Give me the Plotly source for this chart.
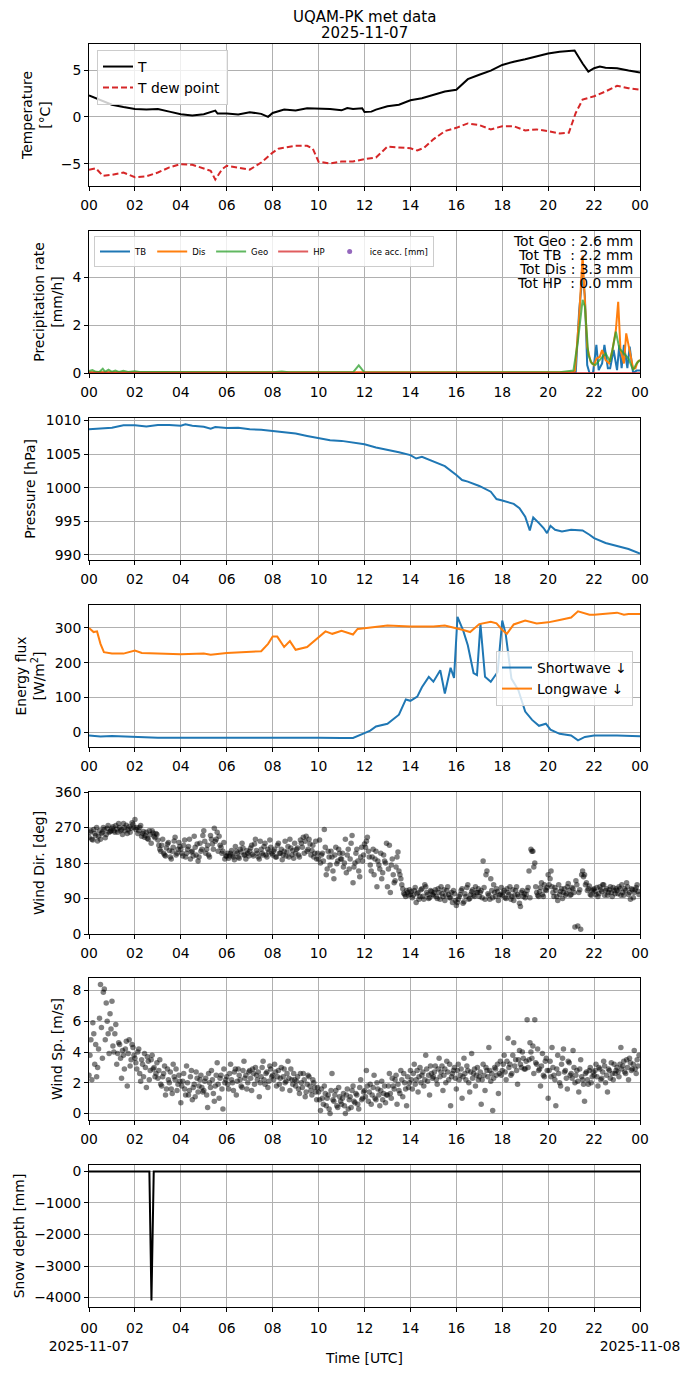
import pandas as pd
import plotly.graph_objects as go
from plotly.subplots import make_subplots

DAY = pd.Timestamp("2025-11-07")

# --- temperature [degC] ---
temp_hours = [0, 0.5, 1, 1.5, 2, 2.5, 3, 3.5, 4, 4.5, 5, 5.5, 5.6, 6, 6.5, 7, 7.5, 7.8, 8, 8.5,
              9, 9.5, 10, 10.5, 11, 11.25, 11.5, 11.9, 12, 12.3, 12.5, 13, 13.5, 14, 14.5, 15, 15.5, 16, 16.25, 16.5,
              17, 17.5, 18, 18.5, 19, 19.5, 20, 20.5, 21, 21.15, 21.5, 21.75, 22, 22.25, 22.5, 23, 23.5, 24]
temp_values = [2.3, 1.8, 1.3, 1.06, 0.85, 0.78, 0.85, 0.56, 0.28, 0.14, 0.28, 0.67, 0.35, 0.35, 0.25, 0.5, 0.32, 0.0, 0.42, 0.78,
               0.67, 0.92, 0.92, 0.85, 0.7, 0.95, 0.85, 0.92, 0.53, 0.56, 0.78, 1.13, 1.3, 1.77, 2.0, 2.37, 2.72, 2.9, 3.43, 4.03,
               4.5, 4.95, 5.55, 5.9, 6.15, 6.43, 6.78, 6.96, 7.03, 7.1, 5.7, 4.84, 5.2, 5.37, 5.26, 5.2, 4.95, 4.73]

dew_hours = [0, 0.3, 0.6, 1, 1.5, 2, 2.5, 3, 3.5, 4, 4.5, 5, 5.3, 5.5, 5.8, 6, 6.5, 7, 7.5, 8,
             8.25, 8.5, 9, 9.5, 9.75, 10, 10.5, 11, 11.5, 12, 12.5, 13, 13.5, 14, 14.3, 14.6, 15, 15.5, 16, 16.5,
             17, 17.5, 18, 18.5, 19, 19.5, 20, 20.5, 20.9, 21.2, 21.5, 22, 22.5, 23, 23.5, 24]
dew_values = [-5.65, -5.5, -6.3, -6.2, -5.95, -6.45, -6.35, -5.95, -5.4, -5.05, -5.12, -5.5, -5.76, -6.7, -5.58, -5.23, -5.4, -5.65, -4.88, -3.82,
              -3.4, -3.3, -3.1, -3.1, -3.4, -4.8, -4.98, -4.77, -4.77, -4.52, -4.35, -3.18, -3.3, -3.36, -3.6, -3.3, -2.4, -1.52, -1.17, -0.7,
              -0.88, -1.34, -1.0, -1.0, -1.45, -1.34, -1.52, -1.77, -1.7, 0.42, 1.84, 2.2, 2.72, 3.32, 3.07, 2.9]

# --- precipitation rate [mm/h] ---
tb_hours = [0, 21.1, 21.2, 21.35, 21.5, 21.6, 21.7, 21.8, 21.95, 22.1, 22.2, 22.35, 22.45, 22.6, 22.7,
            22.85, 23.0, 23.1, 23.2, 23.3, 23.45, 23.55, 23.7, 23.85, 24.0]
tb_rate = [0.03, 0.03, 0.0, 2.6, 4.1, 3.2, 0.33, 0.0, 0.0, 1.17, 0.12, 0.4, 1.17, 0.2, 0.2,
           0.96, 0.12, 1.17, 0.2, 1.17, 0.2, 1.1, 0.0, 0.1, 0.1]
dis_hours = [0, 21.05, 21.17, 21.35, 21.5, 21.6, 21.7, 21.85, 22.0, 22.1, 22.25, 22.35, 22.5, 22.65, 22.8,
             22.95, 23.05, 23.15, 23.3, 23.4, 23.55, 23.7, 23.8, 23.9, 24.0]
dis_rate = [0.03, 0.03, 0.1, 2.35, 4.9, 3.05, 1.1, 0.47, 0.33, 0.6, 0.68, 0.96, 0.54, 0.4, 0.96,
            1.8, 2.97, 0.96, 0.4, 1.65, 0.96, 0.19, 0.2, 0.47, 0.54]
geo_hours = [0, 0.15, 0.3, 0.45, 0.6, 0.7, 0.85, 1.0, 1.15, 1.3, 1.5, 1.7, 2.0, 2.2, 3.0, 4.0, 6.0, 8.0, 8.4, 8.7,
             10.0, 11.5, 11.75, 12.0, 14.0, 16.0, 17.0, 18.0, 19.5, 20.0, 20.5, 21.1, 21.3, 21.5, 21.6, 21.75, 21.9,
             22.05, 22.3, 22.5, 22.7, 22.95, 23.1, 23.3, 23.5, 23.7, 23.85, 24.0]
geo_rate = [0.08, 0.12, 0.05, 0.04, 0.18, 0.05, 0.14, 0.05, 0.1, 0.04, 0.09, 0.04, 0.07, 0.04, 0.04, 0.03, 0.03, 0.03, 0.06, 0.03,
            0.03, 0.03, 0.32, 0.02, 0.02, 0.02, 0.03, 0.02, 0.03, 0.02, 0.03, 0.1, 1.37, 3.05, 2.76, 0.75, 0.4,
            0.33, 0.6, 0.82, 0.47, 1.72, 1.03, 0.82, 0.6, 0.12, 0.4, 0.54]
hp_hours = [0, 24]
hp_rate = [0.0, 0.0]
precip_totals = {"Geo": 2.6, "TB": 2.2, "Dis": 3.3, "HP": 0.0}

# --- pressure [hPa] ---
pres_hours = [0, 0.5, 1, 1.5, 2, 2.5, 3, 3.5, 4, 4.2, 4.5, 5, 5.3, 5.5, 6, 6.5, 7, 7.5, 8, 8.5,
              9, 9.5, 10, 10.5, 11, 11.5, 12, 12.5, 13, 13.3, 13.5, 14, 14.25, 14.5, 15, 15.5, 16, 16.25, 16.5, 17,
              17.5, 17.75, 18, 18.5, 18.75, 19, 19.2, 19.35, 19.6, 19.8, 19.95, 20.1, 20.3, 20.6, 21, 21.5, 21.8, 22, 22.5, 23,
              23.5, 24]
pres_values = [1008.67, 1008.8, 1008.9, 1009.26, 1009.26, 1009.1, 1009.3, 1009.3, 1009.2, 1009.4,
               1009.2, 1009.06, 1008.77, 1009.0, 1008.87, 1008.9, 1008.67, 1008.62, 1008.42, 1008.23,
               1008.03, 1007.68, 1007.4, 1007.04, 1006.95, 1006.75, 1006.45, 1005.96, 1005.67, 1005.47,
               1005.27, 1004.83, 1004.33, 1004.58, 1003.84, 1003.2, 1001.87, 1001.13, 1000.89, 1000.25,
               999.4, 998.3, 998.08, 997.59, 996.95, 995.7, 993.65, 995.57, 994.73, 994.0,
               993.25, 994.33, 993.74, 993.5, 993.74, 993.65, 993.0, 992.5, 991.77, 991.28,
               990.89, 990.2]

# --- radiation [W/m2] ---
sw_hours = [0, 0.5, 1, 2, 3, 4, 5, 6, 7, 8, 9, 10, 11, 11.5, 12, 12.25, 12.5, 13, 13.5, 13.8,
            14, 14.3, 14.5, 14.8, 15.0, 15.3, 15.5, 15.75, 15.9, 16.05, 16.3, 16.5, 16.75, 16.9, 17.05, 17.25, 17.5, 17.8, 18.0, 18.15,
            18.4, 18.7, 19, 19.3, 19.6, 19.9, 20.1, 20.5, 21, 21.3, 21.6, 22, 23, 24]
sw_values = [-10, -13, -11, -14, -16, -16, -16, -15, -16, -14, -16, -16, -17, -17, -3, 4, 16, 24, 50, 94,
             90, 102, 129, 159, 145, 178, 111, 185, 156, 332, 292, 250, 170, 164, 311, 159, 145, 173, 321, 283,
             154, 121, 59, 35, 18, 24, 7, -5, -10, -24, -14, -10, -10, -12]
lw_hours = [0, 0.2, 0.35, 0.5, 0.65, 1, 1.5, 2, 2.3, 3, 4, 5, 5.3, 6, 7, 7.5, 7.8, 8, 8.2, 8.5,
            8.75, 9, 9.5, 10, 10.3, 10.6, 11, 11.5, 11.7, 12, 12.5, 13, 14, 15, 15.5, 16, 16.3, 16.6, 17, 17.5,
            17.75, 18, 18.2, 18.5, 19, 19.5, 20, 20.5, 21, 21.3, 21.8, 22, 22.5, 23, 23.3, 23.5, 24]
lw_values = [300, 288, 290, 254, 230, 226, 226, 235, 228, 226, 224, 226, 223, 228, 230, 233, 254, 275, 275, 245,
             262, 237, 245, 273, 290, 283, 292, 281, 297, 299, 302, 307, 304, 304, 307, 300, 294, 288, 311, 318,
             313, 294, 283, 310, 321, 313, 316, 323, 330, 348, 338, 338, 340, 344, 338, 340, 340]

# --- wind, 5-min samples on the 5-min mark (one row per hour) ---
wind_dir = [
    245, 262, 238, 255, 270, 248, 240, 258, 265, 252, 275, 260,
    268, 262, 275, 258, 270, 265, 280, 262, 255, 272, 268, 278,
    290, 270, 262, 275, 255, 245, 258, 240, 252, 262, 248, 255,
    238, 215, 225, 205, 198, 228, 212, 190, 220, 245, 205, 232,
    215, 198, 238, 205, 222, 190, 210, 248, 200, 185, 230, 215,
    262, 205, 225, 195, 240, 215, 235, 258, 248, 220, 210, 190,
    198, 192, 205, 200, 188, 210, 195, 215, 230, 200, 190, 205,
    210, 225, 198, 240, 205, 190, 215, 200, 230, 195, 208, 220,
    200, 215, 195, 230, 205, 188, 210, 198, 222, 240, 200, 192,
    205, 218, 195, 230, 245, 235, 210, 240, 200, 225, 205, 190,
    190, 180, 205, 265, 150, 210, 175, 195, 140, 220, 185, 205,
    190, 170, 240, 200, 165, 230, 130, 180, 215, 160, 195, 185,
    228, 235, 210, 175, 195, 150, 210, 185, 165, 140, 200, 180,
    120, 225, 175, 150, 135, 195, 160, 140, 115, 100, 110, 98,
    100, 92, 110, 80, 105, 95, 115, 88, 120, 100, 92, 108,
    98, 112, 90, 105, 120, 95, 85, 110, 100, 92, 80, 102,
    72, 88, 100, 115, 82, 95, 125, 90, 108, 98, 120, 105,
    95, 110, 185, 88, 160, 98, 140, 92, 105, 115, 85, 100,
    98, 110, 90, 105, 120, 95, 85, 110, 100, 78, 105, 95,
    92, 110, 160, 215, 210, 180, 105, 95, 118, 100, 125, 110,
    150, 140, 120, 95, 110, 85, 100, 115, 105, 98, 120, 110,
    100, 115, 18, 125, 105, 12, 160, 150, 130, 115, 100, 110,
    115, 100, 95, 120, 108, 125, 110, 98, 112, 105, 118, 102,
    110, 120, 98, 105, 115, 130, 100, 88, 112, 105, 118, 108,
]
wind_speed = [
    2.5, 4.8, 5.9, 3.2, 2.4, 4.2, 8.4, 3.6, 8.1, 7.2, 5.2, 6.5,
    7.3, 4.0, 5.8, 3.9, 4.5, 2.3, 3.8, 4.2, 1.8, 4.8, 3.5, 4.3,
    3.6, 2.9, 4.2, 2.1, 3.2, 3.9, 1.7, 3.4, 2.8, 3.8, 3.0, 2.6,
    2.3, 3.5, 1.8, 2.6, 1.2, 2.9, 2.0, 1.6, 3.2, 2.2, 1.5, 2.5,
    0.7, 2.1, 1.6, 3.1, 1.2, 2.4, 0.9, 1.9, 2.7, 1.4, 2.2, 1.7,
    1.5, 2.3, 0.4, 2.0, 2.8, 1.3, 1.8, 3.3, 1.0, 2.5, 0.3, 2.0,
    2.4, 1.6, 3.2, 2.0, 2.7, 1.2, 2.9, 2.2, 1.7, 3.4, 2.5, 2.0,
    2.8, 1.5, 2.6, 3.0, 2.2, 1.1, 2.4, 3.4, 1.9, 2.7, 2.1, 2.9,
    2.5, 3.2, 1.8, 2.8, 2.3, 1.6, 2.9, 2.1, 3.4, 1.5, 2.2, 2.6,
    1.8, 2.4, 1.3, 2.0, 2.6, 1.1, 1.9, 2.4, 1.5, 2.2, 1.7, 0.9,
    1.4, 0.2, 1.0, 1.8, 0.5, 1.2, 0.0, 2.6, 0.8, 1.5, 0.4, 1.1,
    0.6, 1.3, 0.0, 1.6, 0.9, 0.4, 1.8, 0.7, 1.2, 0.3, 2.2, 1.0,
    1.5, 2.8, 0.8, 1.9, 1.2, 2.5, 0.9, 1.6, 0.5, 2.1, 1.3, 0.7,
    1.2, 2.6, 1.0, 1.8, 2.2, 0.6, 1.5, 2.8, 1.1, 2.0, 0.5, 1.7,
    2.8, 1.6, 3.2, 2.2, 1.4, 3.0, 2.5, 1.8, 3.8, 2.1, 1.2, 2.6,
    2.4, 3.1, 1.9, 3.6, 2.7, 1.5, 2.9, 3.4, 2.2, 0.5, 2.6, 3.0,
    1.6, 3.2, 2.5, 1.0, 3.6, 2.2, 2.8, 1.4, 3.9, 2.6, 1.8, 3.0,
    2.4, 0.6, 3.2, 1.5, 2.8, 4.3, 2.1, 0.2, 3.0, 2.5, 1.3, 3.4,
    2.8, 3.8, 2.2, 4.9, 3.2, 2.6, 4.6, 3.5, 1.9, 4.1, 3.0, 3.6,
    2.9, 6.1, 3.5, 4.0, 4.4, 6.1, 3.2, 2.8, 1.8, 3.9, 2.4, 3.6,
    1.0, 3.4, 4.3, 2.5, 0.5, 3.8, 2.0, 3.2, 4.2, 2.8, 1.6, 3.3,
    2.6, 4.1, 2.0, 2.8, 1.4, 3.5, 2.2, 0.8, 2.7, 1.9, 3.0, 2.4,
    2.5, 3.2, 1.8, 2.9, 2.3, 3.4, 2.0, 1.4, 2.8, 3.3, 2.2, 2.6,
    3.0, 2.4, 4.3, 3.1, 2.7, 3.5, 2.2, 3.3, 2.9, 4.1, 2.6, 3.1,
]
# samples half way between the ones above (xx:02:30, xx:07:30, ...)
wind_dir_mid = [
    258, 240, 265, 250, 236, 262, 255, 270, 244, 268, 258, 262,
    272, 258, 266, 280, 262, 252, 270, 276, 264, 258, 282, 270,
    265, 255, 270, 248, 260, 250, 242, 262, 230, 256, 244, 252,
    225, 210, 240, 200, 218, 232, 195, 210, 236, 200, 215, 222,
    205, 225, 195, 215, 240, 208, 198, 220, 228, 195, 210, 250,
    235, 215, 200, 250, 228, 268, 240, 210, 225, 205, 232, 198,
    205, 198, 212, 195, 222, 205, 192, 208, 218, 200, 212, 198,
    218, 202, 228, 212, 195, 235, 205, 222, 200, 215, 238, 205,
    210, 195, 225, 205, 215, 200, 235, 208, 195, 218, 212, 230,
    215, 200, 238, 220, 205, 248, 215, 228, 212, 195, 235, 205,
    238, 200, 185, 220, 165, 195, 210, 160, 200, 178, 215, 190,
    205, 180, 155, 215, 190, 250, 170, 205, 185, 145, 220, 200,
    220, 245, 195, 160, 215, 190, 120, 175, 205, 155, 185, 230,
    165, 105, 190, 130, 170, 208, 150, 125, 103, 95, 105, 112,
    108, 98, 118, 102, 88, 112, 96, 125, 105, 90, 110, 100,
    105, 95, 115, 88, 102, 112, 98, 120, 92, 105, 110, 85,
    80, 95, 110, 78, 102, 118, 88, 100, 112, 95, 105, 115,
    105, 92, 118, 150, 102, 88, 110, 125, 95, 108, 98, 118,
    105, 92, 115, 100, 88, 112, 98, 120, 95, 70, 110, 102,
    100, 118, 92, 210, 170, 120, 98, 108, 130, 95, 112, 118,
    125, 160, 105, 118, 95, 125, 108, 90, 115, 102, 128, 98,
    118, 105, 135, 20, 112, 150, 145, 125, 110, 122, 98, 112,
    108, 118, 102, 112, 125, 98, 115, 105, 120, 95, 110, 115,
    102, 115, 125, 98, 110, 120, 105, 115, 92, 112, 125, 100,
]
wind_speed_mid = [
    3.8, 2.2, 5.2, 4.5, 3.0, 6.2, 5.6, 7.9, 4.8, 6.0, 3.9, 5.5,
    4.4, 5.2, 3.2, 4.6, 3.6, 4.1, 2.9, 4.7, 3.9, 3.1, 4.5, 3.8,
    3.3, 4.0, 2.6, 3.5, 2.4, 3.0, 3.7, 2.2, 3.5, 2.9, 2.4, 3.3,
    2.8, 1.9, 2.4, 3.1, 1.6, 2.2, 2.7, 1.3, 2.4, 2.9, 1.9, 2.1,
    1.8, 2.6, 1.2, 2.0, 1.5, 2.8, 1.7, 1.1, 2.3, 1.8, 2.5, 1.4,
    2.1, 1.2, 2.6, 1.7, 2.2, 0.8, 2.5, 1.9, 2.3, 1.6, 2.9, 2.2,
    1.9, 2.6, 2.2, 1.5, 2.9, 2.1, 2.5, 1.8, 2.8, 2.3, 1.6, 2.7,
    2.3, 2.9, 1.9, 2.5, 2.7, 2.0, 3.0, 2.2, 2.6, 1.7, 3.1, 2.4,
    2.2, 2.7, 2.4, 1.9, 3.0, 2.4, 2.0, 2.6, 2.3, 2.9, 1.9, 2.2,
    2.1, 1.6, 2.6, 1.7, 2.2, 1.4, 2.5, 1.8, 1.2, 2.0, 1.4, 1.7,
    0.9, 1.6, 0.6, 1.3, 1.0, 0.3, 1.5, 0.9, 1.2, 0.5, 1.7, 0.8,
    1.0, 0.5, 1.2, 0.3, 1.1, 1.5, 0.8, 1.3, 0.6, 1.7, 0.9, 1.4,
    1.1, 1.8, 1.4, 0.6, 1.7, 1.0, 2.0, 1.2, 1.5, 0.9, 1.8, 1.2,
    1.8, 1.3, 2.3, 1.6, 2.5, 1.9, 1.3, 2.2, 2.6, 1.6, 2.4, 2.0,
    2.2, 2.6, 1.9, 2.8, 2.4, 2.0, 2.7, 2.2, 2.9, 2.5, 3.1, 2.3,
    2.7, 2.2, 2.9, 2.4, 3.1, 2.5, 2.0, 2.7, 3.2, 2.4, 2.8, 2.3,
    2.8, 2.2, 2.9, 2.4, 2.6, 3.1, 2.0, 2.7, 2.3, 2.9, 2.5, 2.2,
    2.7, 2.2, 2.5, 3.0, 2.4, 2.8, 2.6, 2.3, 2.9, 3.2, 2.6, 2.5,
    3.2, 2.7, 3.4, 3.0, 2.5, 3.8, 3.1, 2.8, 3.5, 3.2, 4.0, 2.9,
    3.4, 3.0, 4.6, 3.6, 2.6, 3.3, 4.2, 2.9, 3.1, 2.5, 3.4, 2.8,
    2.8, 2.4, 3.0, 2.2, 2.9, 2.6, 1.8, 3.6, 2.7, 2.3, 3.4, 2.5,
    2.3, 3.0, 2.5, 2.1, 2.9, 2.4, 1.9, 2.6, 2.2, 2.8, 2.0, 2.7,
    2.8, 2.4, 3.0, 2.2, 2.7, 3.1, 2.5, 2.9, 2.3, 2.6, 3.2, 2.8,
    2.7, 3.2, 2.9, 3.4, 2.6, 3.0, 3.6, 2.8, 3.2, 2.9, 3.5, 3.8,
]

# --- snow depth [mm] ---
snow_hours = [0, 2.63, 2.72, 2.82, 24]
snow_values = [0, 0, -4095, 0, 0]

tick_hours = ["00", "02", "04", "06", "08", "10", "12", "14", "16", "18", "20", "22", "00"]

BLUE, ORANGE, GREEN, RED, PURPLE = "#1f77b4", "#ff7f0e", "#2ca02c", "#d62728", "#9467bd"
FONT = "DejaVu Sans"
FS = 13.9

# layout in page pixels; the page body adds an 8 px margin round the figure
PAGE_OFF = 8
W, H = 690 - PAGE_OFF, 1377 - PAGE_OFF
PLOT_L, PLOT_R, PLOT_T, PLOT_B = 89, 640, 44, 1307
PANEL_TOPS = [44, 231, 418, 605, 792, 978, 1165]
PANEL_H = 142


def to_time(hours):
    return DAY + pd.to_timedelta(hours, unit="h")


def px_x(px):
    return (px - PLOT_L) / (PLOT_R - PLOT_L)


def px_y(py):
    return 1 - (py - PLOT_T) / (PLOT_B - PLOT_T)


def label_font(size=FS):
    return dict(family=FONT, size=size, color="black")


fig = make_subplots(rows=7, cols=1)

fig.add_trace(go.Scatter(x=to_time(temp_hours), y=temp_values, mode="lines", name="T",
                         line=dict(color="black", width=2), legend="legend"), row=1, col=1)
fig.add_trace(go.Scatter(x=to_time(dew_hours), y=dew_values, mode="lines", name="T dew point",
                         line=dict(color=RED, width=2, dash="6px,3px"), legend="legend"), row=1, col=1)

for name, hrs, vals, color, op in [("TB", tb_hours, tb_rate, BLUE, 1.0),
                                   ("Dis", dis_hours, dis_rate, ORANGE, 1.0),
                                   ("Geo", geo_hours, geo_rate, GREEN, 0.75),
                                   ("HP", hp_hours, hp_rate, RED, 0.75)]:
    fig.add_trace(go.Scatter(x=to_time(hrs), y=vals, mode="lines", name=name, opacity=op,
                             line=dict(color=color, width=2), legend="legend2"), row=2, col=1)
fig.add_trace(go.Scatter(x=[None], y=[None], mode="markers", name="ice acc. [mm]",
                         marker=dict(color=PURPLE, size=5), legend="legend2"), row=2, col=1)

fig.add_trace(go.Scatter(x=to_time(pres_hours), y=pres_values, mode="lines", showlegend=False,
                         line=dict(color=BLUE, width=2)), row=3, col=1)

fig.add_trace(go.Scatter(x=to_time(sw_hours), y=sw_values, mode="lines", name="Shortwave ↓",
                         line=dict(color=BLUE, width=2), legend="legend3"), row=4, col=1)
fig.add_trace(go.Scatter(x=to_time(lw_hours), y=lw_values, mode="lines", name="Longwave ↓",
                         line=dict(color=ORANGE, width=2), legend="legend3"), row=4, col=1)

wind_times = list(pd.date_range(DAY, periods=len(wind_dir), freq="5min")) + \
    list(pd.date_range(DAY + pd.Timedelta(minutes=2.5), periods=len(wind_dir_mid), freq="5min"))
fig.add_trace(go.Scatter(x=wind_times, y=wind_dir + wind_dir_mid, mode="markers", showlegend=False,
                         marker=dict(color="black", size=5.5, opacity=0.5)), row=5, col=1)
fig.add_trace(go.Scatter(x=wind_times, y=wind_speed + wind_speed_mid, mode="markers", showlegend=False,
                         marker=dict(color="black", size=5.5, opacity=0.5)), row=6, col=1)

fig.add_trace(go.Scatter(x=to_time(snow_hours), y=snow_values, mode="lines", showlegend=False,
                         line=dict(color="black", width=2)), row=7, col=1)

axis_style = dict(showline=True, linecolor="black", linewidth=1, mirror=True,
                  ticks="outside", ticklen=4, tickwidth=1, tickcolor="black",
                  showgrid=True, gridcolor="#b0b0b0", gridwidth=0.8, zeroline=False,
                  automargin=False, tickangle=0, tickfont=label_font())

tick_times = pd.date_range(DAY, periods=len(tick_hours), freq="2h")
y_setup = [
    ("Temperature<br>[°C]", [-7.39, 7.79], [-5, 0, 5]),
    ("Precipitation rate<br>[mm/h]", [0, 5.92], [0, 2, 4]),
    ("Pressure [hPa]", [989.25, 1010.35], [990, 995, 1000, 1005, 1010]),
    ("Energy flux<br>[W/m<sup>2</sup>]", [-43, 366], [0, 100, 200, 300]),
    ("Wind Dir. [deg]", [0, 360], [0, 90, 180, 270, 360]),
    ("Wind Sp. [m/s]", [-0.42, 8.82], [0, 2, 4, 6, 8]),
    ("Snow depth [mm]", [-4300, 205], [-4000, -3000, -2000, -1000, 0]),
]

for i, (title, yrange, yticks) in enumerate(y_setup, start=1):
    top = PANEL_TOPS[i - 1]
    labels = list(tick_hours)
    standoff = 2
    if i == 7:
        labels[0] = "00<br>2025-11-07"
        labels[-1] = "00<br>2025-11-08"
        standoff = 4
    fig.update_layout({
        f"xaxis{i}": dict(axis_style, type="date", range=[DAY, DAY + pd.Timedelta(hours=24)],
                          tickvals=tick_times, ticktext=labels, domain=[0, 1],
                          ticklabelstandoff=standoff),
        f"yaxis{i}": dict(axis_style, range=yrange, tickvals=yticks,
                          domain=[px_y(top + PANEL_H), px_y(top)],
                          title=dict(text=title, font=label_font(), standoff=6)),
    })

fig.update_layout(xaxis7_title=dict(text="Time [UTC]", font=label_font(), standoff=0))

legend_box = dict(bgcolor="rgba(255,255,255,0.8)", bordercolor="#cccccc", borderwidth=1)
fig.update_layout(
    legend=dict(legend_box, x=px_x(97), y=px_y(50), xanchor="left", yanchor="top",
                font=label_font()),
    legend2=dict(legend_box, x=px_x(94), y=px_y(236), xanchor="left", yanchor="top",
                 orientation="h", itemwidth=30, font=label_font(8.5)),
    legend3=dict(legend_box, x=px_x(633), y=px_y(651), xanchor="right", yanchor="top",
                 font=label_font()),
)

tot_lines = [
    (f"Tot Geo : {precip_totals['Geo']:.1f} mm", 241),
    (f"Tot TB\u00a0\u00a0: {precip_totals['TB']:.1f} mm", 255),
    (f"Tot Dis : {precip_totals['Dis']:.1f} mm", 269),
    (f"Tot HP\u00a0\u00a0: {precip_totals['HP']:.1f} mm", 283),
]
for text, py in tot_lines:
    fig.add_annotation(text=text, xref="paper", yref="paper", x=px_x(635), y=px_y(py),
                       xanchor="right", yanchor="middle", showarrow=False, font=label_font())

for text, py in [("UQAM-PK met data", 17), ("2025-11-07", 33)]:
    fig.add_annotation(text=text, xref="paper", yref="paper", x=0.5, y=px_y(py),
                       xanchor="center", yanchor="middle", showarrow=False, font=label_font(15))

fig.update_layout(
    width=W, height=H,
    margin=dict(l=PLOT_L - PAGE_OFF, r=W - (PLOT_R - PAGE_OFF), t=PLOT_T - PAGE_OFF,
                b=H - (PLOT_B - PAGE_OFF)),
    paper_bgcolor="white", plot_bgcolor="white",
    font=label_font(),
)

fig.write_html("out.html")
